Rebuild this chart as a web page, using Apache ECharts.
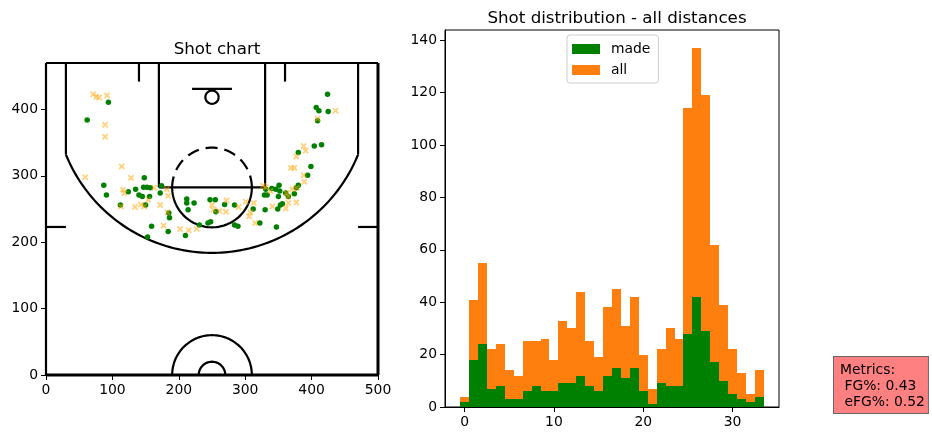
<!DOCTYPE html>
<html>
<head>
<meta charset="utf-8">
<script src="https://cdn.jsdelivr.net/npm/echarts@6/dist/echarts.min.js"></script>
<style>html,body{margin:0;padding:0;background:#fff;}#chart{width:932px;height:441px;}</style>
</head>
<body>
<div id="chart"></div>
<script>
// ---- Shot chart data (court coordinates) ----
const madeX = [94,62,87,91,112,124,135,140,148,147,152,157,145,156,150,172,174,185,186,159,184,153,210,212,212,223,214,231,244,248,247,255,269,256,284,284,289,312,330,322,347,349,356,353,350,352,351,340,346,331,329,333,361,365,377,374,380,394,399,380,404,415,409,407,411,425,424];
const madeY = [411,384,286,271,256,276,280,271,297,283,283,282,269,269,256,274,285,244,237,224,216,208,210,265,259,259,249,226,229,231,264,264,257,246,256,226,224,250,249,229,223,250,258,256,269,277,286,281,280,280,271,271,274,269,282,273,286,301,314,335,345,347,383,403,398,397,423];
const missX = [71,76,80,92,89,89,114,59,128,116,118,113,134,148,143,154,163,182,184,172,183,177,202,215,227,250,252,261,272,271,290,301,313,308,306,315,341,361,365,377,365,362,371,378,327,331,338,389,388,369,374,377,391,388,409,436];
const missY = [423,419,418,421,377,359,314,298,297,279,274,254,253,254,257,264,282,280,270,256,245,225,220,218,220,256,249,247,263,246,253,261,259,245,239,229,254,251,259,260,269,274,280,282,285,283,277,291,301,312,312,329,338,345,386,398];

// ---- Histogram data ----
const distBins = [0,1,2,3,4,5,6,7,8,9,10,11,12,13,14,15,16,17,18,19,20,21,22,23,24,25,26,27,28,29,30,31,32,33];
const madeCounts = [2,18,24,7,8,3,3,6,8,6,6,9,9,12,8,6,12,15,11,15,6,1,9,8,8,28,42,29,17,10,5,3,2,4];
const allCounts = [4,41,55,22,24,14,12,25,25,26,18,33,30,44,25,19,38,45,31,42,20,7,22,30,26,114,137,119,62,39,22,13,5,14];

const shotTicksX = [0,100,200,300,400,500];
const shotTicksY = [0,100,200,300,400];
const histTicksX = [0,10,20,30];
const histTicksY = [0,20,40,60,80,100,120,140];

const metricsText = 'Metrics:\n FG%: 0.43\n eFG%: 0.52';

const FONT = 'DejaVu Sans';
const FS = 13.9;

// court geometry (court units)
const court = {
  hoop: [250, 418.5], hoopR: 10,
  backboardY: 431, backboardX: [220, 280],
  paintX: [170, 330], ftY: 282.5, ftR: 60,
  cornerX: [30, 470], cornerY: 332,
  arcC: [250, 421.5], arcR: 237.5,
  hashX: [140, 360], hashY: [470, 442],
  sideY: 223, centerR: [60, 20]
};

function arcPts(api, cx, cy, r, a0, a1, n) {
  const pts = [];
  for (let i = 0; i <= n; i++) {
    const t = (a0 + (a1 - a0) * i / n) * Math.PI / 180;
    pts.push(api.coord([cx + r * Math.cos(t), cy + r * Math.sin(t)]));
  }
  return pts;
}
function seg(api, a, b) {
  return {type: 'polyline', shape: {points: [api.coord(a), api.coord(b)]}};
}

function courtItem(params, api) {
  const lw = 2.2;
  const st = {stroke: '#000', lineWidth: lw, fill: null};
  const c = court;
  const kids = [];
  kids.push(Object.assign(seg(api, [0, 0], [500, 0]), {style: {lineWidth: 3}}));
  kids.push(seg(api, [0, 0], [0, 470]));
  kids.push(Object.assign(seg(api, [500, 0], [500, 470]), {style: {lineWidth: 3}}));
  kids.push(seg(api, [0, 470], [500, 470]));
  kids.push(seg(api, [c.cornerX[0], 470], [c.cornerX[0], c.cornerY]));
  kids.push(seg(api, [c.cornerX[1], 470], [c.cornerX[1], c.cornerY]));
  const a = Math.acos((c.arcC[0] - c.cornerX[0]) / c.arcR) * 180 / Math.PI;
  kids.push({type: 'polyline', shape: {points: arcPts(api, c.arcC[0], c.arcC[1], c.arcR, 180 + a, 360 - a, 120)}});
  kids.push(seg(api, [c.paintX[0], 470], [c.paintX[0], c.ftY]));
  kids.push(seg(api, [c.paintX[1], 470], [c.paintX[1], c.ftY]));
  kids.push(seg(api, [c.paintX[0], c.ftY], [c.paintX[1], c.ftY]));
  kids.push({type: 'polyline', shape: {points: arcPts(api, 250, c.ftY, c.ftR, 180, 360, 60)}});
  kids.push({type: 'polyline', shape: {points: arcPts(api, 250, c.ftY, c.ftR, 0, 180, 60)}, style: {lineDash: [12, 7]}});
  kids.push(seg(api, [c.backboardX[0], c.backboardY], [c.backboardX[1], c.backboardY]));
  kids.push({type: 'polyline', shape: {points: arcPts(api, c.hoop[0], c.hoop[1], c.hoopR, 0, 360, 40)}});
  kids.push(seg(api, [c.hashX[0], c.hashY[0]], [c.hashX[0], c.hashY[1]]));
  kids.push(seg(api, [c.hashX[1], c.hashY[0]], [c.hashX[1], c.hashY[1]]));
  kids.push(seg(api, [0, c.sideY], [30, c.sideY]));
  kids.push(seg(api, [470, c.sideY], [500, c.sideY]));
  kids.push({type: 'polyline', shape: {points: arcPts(api, 250, 0, c.centerR[0], 0, 180, 60)}});
  kids.push({type: 'polyline', shape: {points: arcPts(api, 250, 0, c.centerR[1], 0, 180, 30)}});
  kids.forEach(k => { k.style = Object.assign({}, st, k.style || {}); });
  return {type: 'group', children: kids};
}

function barItem(params, api) {
  const x = api.value(0), y = api.value(1);
  const p0 = api.coord([x - 0.5, y]);
  const p1 = api.coord([x + 0.5, 0]);
  const x0 = Math.round(p0[0]), x1 = Math.round(p1[0]);
  const y0 = Math.round(p0[1]), y1 = Math.round(p1[1]);
  return {type: 'rect', shape: {x: x0, y: y0, width: x1 - x0, height: y1 - y0},
          style: {fill: api.visual('color')}};
}

const axisCommon = {
  axisLine: {show: true, onZero: false, lineStyle: {color: '#000', width: 1}},
  axisTick: {show: true, inside: false, length: 5, lineStyle: {color: '#000', width: 1}},
  axisLabel: {color: '#000', fontFamily: FONT, fontSize: FS},
  splitLine: {show: false}
};
function mkAxis(extra, ticks, margin) {
  const ax = Object.assign({type: 'value'}, JSON.parse(JSON.stringify(axisCommon)), extra);
  ax.axisTick.customValues = ticks;
  ax.axisLabel.customValues = ticks;
  ax.axisLabel.margin = margin;
  return ax;
}

const xSymbol = 'path://M0,2 L2,0 L5,3 L8,0 L10,2 L7,5 L10,8 L8,10 L5,7 L2,10 L0,8 L3,5 Z';

const chart = echarts.init(document.getElementById('chart'), null, {renderer: 'canvas'});
chart.setOption({
  animation: false,
  backgroundColor: '#fff',
  textStyle: {fontFamily: FONT},
  title: [
    {text: 'Shot chart', left: 212, top: 35, textAlign: 'center',
     textStyle: {fontFamily: FONT, fontSize: 16.7, fontWeight: 'normal', color: '#000', lineHeight: 20}},
    {text: 'Shot distribution - all distances', left: 612, top: 4, textAlign: 'center',
     textStyle: {fontFamily: FONT, fontSize: 16.7, fontWeight: 'normal', color: '#000', lineHeight: 20}}
  ],
  grid: [
    {left: 46, top: 63, width: 332, height: 312, show: true, borderColor: '#000', borderWidth: 1, backgroundColor: 'transparent'},
    {left: 445, top: 30, width: 334, height: 377, show: true, borderColor: '#000', borderWidth: 1, backgroundColor: 'transparent'}
  ],
  xAxis: [
    mkAxis({gridIndex: 0, min: 0, max: 500}, shotTicksX, 8),
    mkAxis({gridIndex: 1, min: -2.2, max: 35.2}, histTicksX, 8)
  ],
  yAxis: [
    mkAxis({gridIndex: 0, min: 0, max: 470}, shotTicksY, 8),
    mkAxis({gridIndex: 1, min: 0, max: 143.85}, histTicksY, 8)
  ],
  legend: {
    orient: 'vertical', left: 567, top: 35,
    data: [{name: 'made', icon: 'rect'}, {name: 'all', icon: 'rect'}],
    itemWidth: 28, itemHeight: 10, itemGap: 7,
    padding: [7, 8, 6, 5],
    borderColor: '#cccccc', borderWidth: 1, borderRadius: 3,
    backgroundColor: 'rgba(255,255,255,0.8)',
    textStyle: {fontFamily: FONT, fontSize: FS, color: '#000', lineHeight: 14, padding: [0, 0, 0, 6]},
    selectedMode: false
  },
  series: [
    {type: 'custom', name: 'court', xAxisIndex: 0, yAxisIndex: 0, data: [[0, 0]],
     renderItem: courtItem, silent: true, clip: false, z: 1},
    {type: 'scatter', name: 'madeShots', xAxisIndex: 0, yAxisIndex: 0,
     data: madeX.map((x, i) => [x, madeY[i]]), symbol: 'circle', symbolSize: 5.5,
     itemStyle: {color: '#008000', opacity: 1}, silent: true, z: 2},
    {type: 'scatter', name: 'missedShots', xAxisIndex: 0, yAxisIndex: 0,
     data: missX.map((x, i) => [x, missY[i]]), symbol: xSymbol, symbolSize: 6.5,
     itemStyle: {color: '#ffa500', opacity: 0.5}, silent: true, z: 3},
    {type: 'custom', name: 'all', xAxisIndex: 1, yAxisIndex: 1,
     data: distBins.map((b, i) => [b, allCounts[i]]), encode: {x: 0, y: 1},
     renderItem: barItem, itemStyle: {color: '#ff7f0e'}, silent: true, z: 2},
    {type: 'custom', name: 'made', xAxisIndex: 1, yAxisIndex: 1,
     data: distBins.map((b, i) => [b, madeCounts[i]]), encode: {x: 0, y: 1},
     renderItem: barItem, itemStyle: {color: '#008000'}, silent: true, z: 3}
  ],
  graphic: [
    {type: 'text', left: 833, top: 356, z: 10,
     style: {text: metricsText, font: FS + 'px "' + FONT + '"', lineHeight: 16, fill: '#000',
             backgroundColor: '#ff8080', borderColor: '#666', borderWidth: 1, padding: [5, 3, 3, 6]}}
  ]
});
</script>
</body>
</html>
